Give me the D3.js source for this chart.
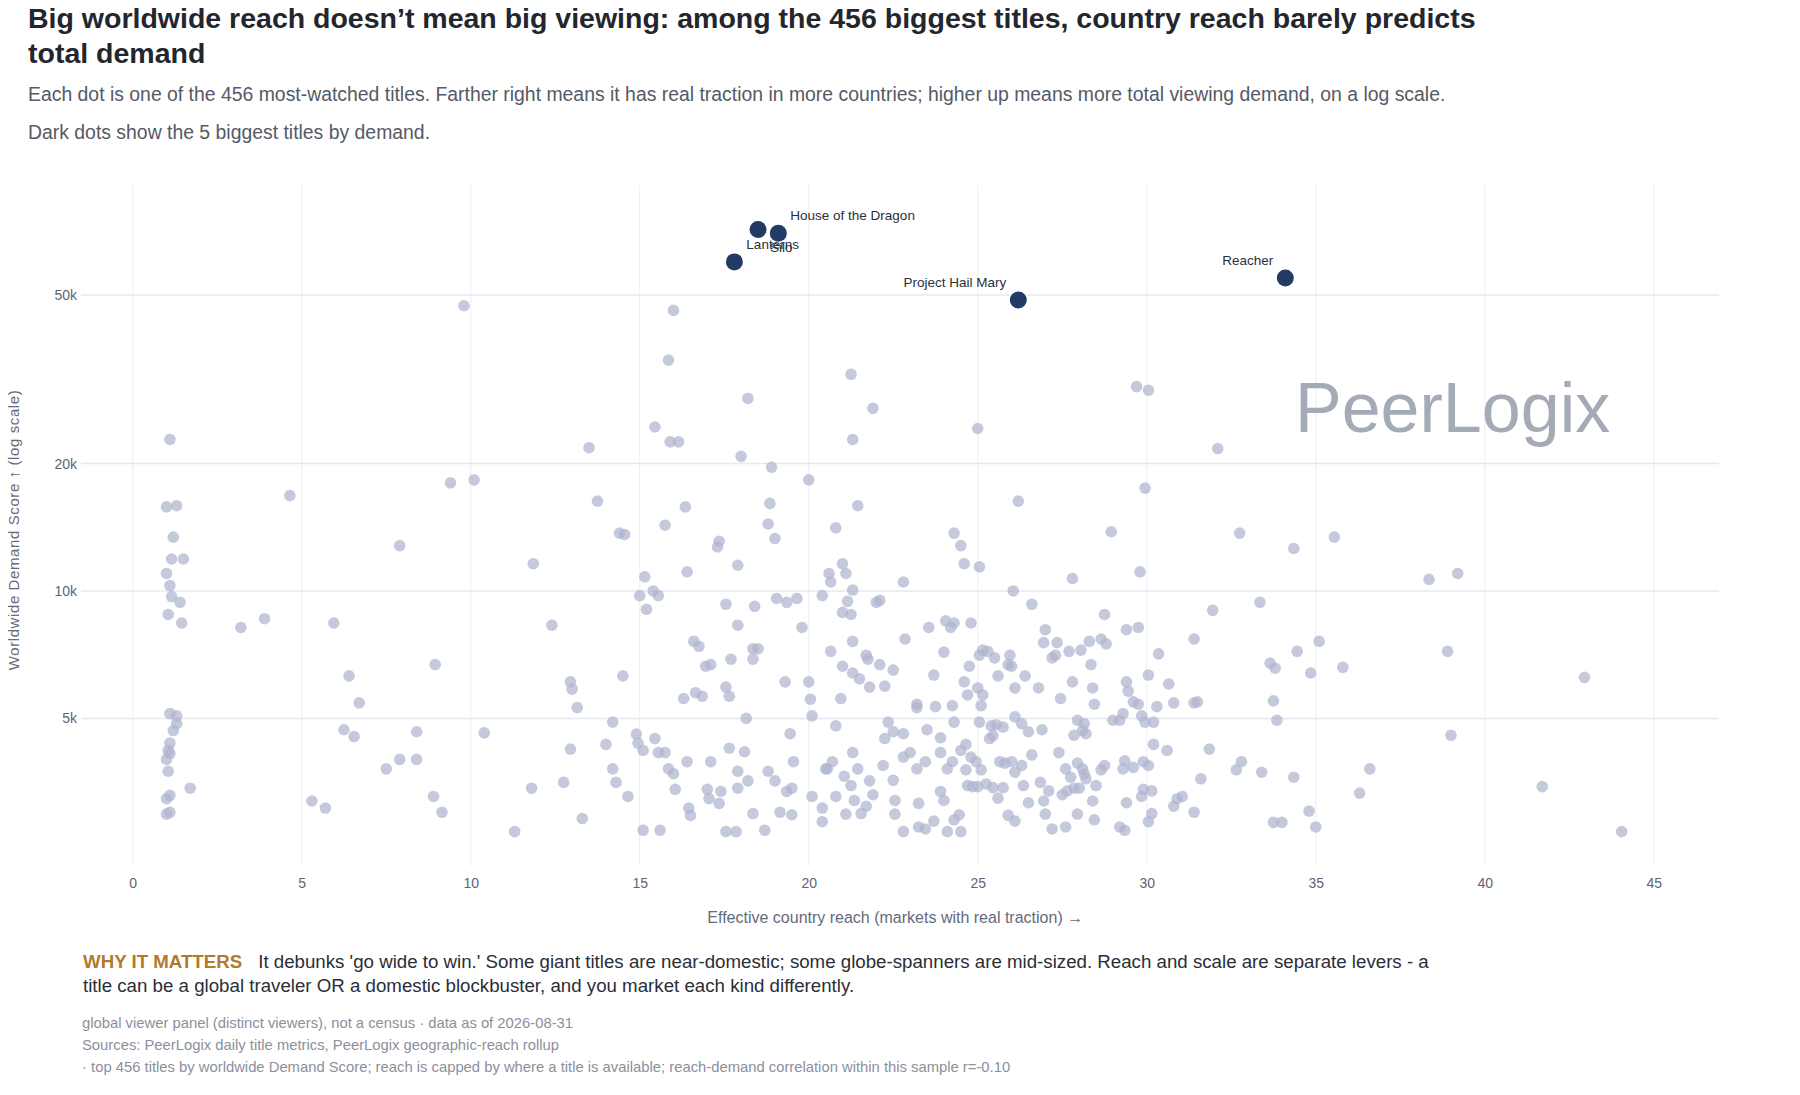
<!DOCTYPE html>
<html>
<head>
<meta charset="utf-8">
<script src="https://cdn.jsdelivr.net/npm/d3@7"></script>
<style>
  body { margin: 0; background: #fff; font-family: "Liberation Sans", Arial, sans-serif; }
</style>
</head>
<body>
<svg id="chart" width="1800" height="1095"></svg>
<script>
// x tick values and y tick values (log axis)
var xTicks = [0, 5, 10, 15, 20, 25, 30, 35, 40, 45];
var yTicks = [5000, 10000, 20000, 50000];
var yTickLabels = ["5k", "10k", "20k", "50k"];

// the 5 biggest titles by demand
var topTitles = ["Silo", "House of the Dragon", "Lanterns", "Project Hail Mary", "Reacher"];
var topReach = [18.5, 19.1, 17.8, 26.2, 34.1];
var topDemand = [71400, 70000, 59900, 48700, 54900];
var topLabelPos = ["bottom right", "top right", "top right", "top left", "top left"];

// all other titles: [reach, demand]
var otherTitles = [
  [1.1,22800],[1.0,15800],[1.3,15900],[1.2,13400],[1.15,11900],[1.5,11900],[1.0,11000],[1.1,10300],
  [1.15,9700],[1.4,9400],[1.05,8800],[1.45,8400],[1.1,5130],[1.3,5070],[1.3,4860],[1.2,4680],
  [1.1,4370],[1.05,4200],[1.1,4130],[1.0,4000],[1.05,3750],[1.7,3420],[1.1,3290],[1.0,3230],
  [1.1,3000],[1.0,2970],
  [4.65,16800],[3.2,8200],[3.9,8600],[5.95,8400],[6.4,6300],[6.7,5440],[6.25,4700],[6.55,4530],
  [5.3,3190],[5.7,3070],[7.5,3800],[7.9,4000],[8.4,4000],[8.4,4650],[7.9,12800],[8.95,6700],
  [8.9,3270],[9.15,3000],[9.8,47200],[9.4,18000],[10.1,18300],[10.4,4620],[11.3,2700],[11.8,3420],
  [11.85,11600],[12.4,8300],[12.75,3530],[12.95,6100],[13.0,5860],[12.95,4230],[13.15,5300],[13.3,2900],
  [13.5,21800],[13.75,16300],[14.0,4340],[14.2,4900],[14.2,3800],[14.3,3530],[14.4,13700],[14.55,13600],
  [14.5,6300],[14.65,3270],[14.9,4590],[14.95,4370],[15.0,9750],[15.15,10800],[15.2,9050],[15.4,10000],
  [15.45,24400],[15.85,35100],[16.0,46000],[15.9,22500],[16.15,22500],[15.75,14300],[15.55,9750],[16.4,11100],
  [16.35,15800],[15.1,4200],[15.45,4480],[15.55,4150],[15.75,4150],[15.1,2720],[15.6,2720],[15.85,3800],
  [16.0,3700],[16.05,3400],[16.4,3950],[16.3,5570],[16.65,5750],[16.85,5640],[16.6,7600],[16.75,7400],
  [16.95,6640],[17.1,6700],[17.55,5930],[17.65,5640],[17.35,13100],[17.3,12700],[17.55,9300],[17.9,11500],
  [18.0,20800],[18.2,28500],[17.9,8300],[18.15,5000],[18.4,9200],[18.35,7300],[18.35,6900],[18.5,7300],
  [18.1,4170],[17.1,3950],[16.45,3070],[16.5,2950],[17.05,3230],[17.35,3150],[17.4,3360],[17.0,3400],
  [17.55,2700],[17.85,2700],[17.9,3420],[17.9,3750],[18.2,3560],[18.35,2980],[18.7,2720],[18.8,3750],
  [18.9,19600],[18.85,16100],[18.8,14400],[19.0,13300],[19.05,9600],[19.35,9400],[19.65,9600],[19.8,8200],
  [19.3,6100],[19.45,4600],[19.55,3950],[19.0,3560],[19.35,3360],[19.15,3000],[19.5,2960],[19.5,3420],
  [20.0,18300],[20.0,6100],[20.05,5550],[20.1,5070],[20.1,3270],[20.4,9750],[20.6,11000],[20.65,10500],
  [20.8,14100],[20.5,3800],[20.7,3950],[20.4,3070],[20.4,2850],[20.55,3800],[20.8,3270],[20.95,5570],
  [21.0,11600],[21.1,11000],[21.15,9450],[21.3,10050],[21.25,8800],[21.3,7600],[21.25,32500],[21.3,22800],
  [21.45,15900],[21.9,27000],[21.0,8900],[21.5,6200],[21.75,6900],[21.8,5930],[22.1,6700],[22.25,5960],
  [22.1,9500],[22.0,9400],[22.5,6500],[22.8,10500],[22.85,7700],[22.25,4480],[22.5,4650],[22.8,4600],
  [22.35,4900],[21.45,3800],[21.3,4150],[21.05,3650],[21.25,3470],[21.35,3200],[21.1,2970],[21.55,2980],
  [21.8,3560],[21.9,3300],[21.7,3100],[22.2,3870],[22.5,3570],[22.55,3200],[22.55,2970],[22.8,2700],
  [22.8,4050],[23.0,4150],[23.2,5400],[23.2,5300],[23.5,4700],[23.2,3800],[23.25,3150],[23.25,2770],
  [23.45,2740],[23.45,3950],[23.55,8200],[23.7,6330],[23.75,5330],[23.9,4500],[23.9,4150],[24.0,7170],
  [24.05,8500],[24.2,8200],[24.25,5360],[24.3,4900],[24.25,3950],[24.1,3800],[23.9,3360],[24.0,3200],
  [23.7,2860],[24.1,2700],[24.3,2880],[24.45,2960],[24.5,2700],[24.3,13700],[24.5,12800],[24.6,11600],
  [25.0,24200],[25.05,11400],[24.8,8400],[25.05,7050],[25.15,7250],[25.3,7200],[24.6,6100],[24.75,6640],
  [24.7,5680],[25.0,5900],[25.15,5680],[25.5,6950],[25.95,7050],[26.0,6640],[25.6,6300],[25.1,5360],
  [25.05,4900],[25.4,4800],[25.55,4830],[25.75,4770],[26.1,5040],[26.3,4860],[26.4,6300],[26.8,5900],
  [26.5,4650],[26.9,4700],[24.5,4200],[24.65,4340],[24.8,4050],[24.65,3780],[24.95,3950],[25.1,3780],
  [25.35,4480],[25.45,4550],[25.65,3950],[25.8,3920],[26.0,3950],[26.1,3730],[26.3,3870],[26.6,4100],
  [25.25,3500],[24.7,3470],[24.85,3450],[25.0,3450],[25.45,3430],[25.75,3430],[25.6,3240],[25.9,2950],
  [26.1,2860],[26.35,3470],[26.5,3160],[26.85,3530],[27.1,3370],[26.95,3190],[27.0,2970],[27.2,2740],
  [27.4,4150],[27.6,3800],[27.75,3630],[27.65,3370],[27.85,3420],[27.5,3300],[27.95,2970],[27.6,2770],
  [27.95,3920],[28.1,3800],[28.15,3700],[28.2,3600],[28.0,3420],[28.4,3190],[28.5,3470],[28.65,3780],
  [28.75,3870],[28.45,2880],[29.2,2770],[29.35,2720],[29.4,3160],[29.85,3270],[29.9,3400],[30.15,3370],
  [30.15,2980],[30.05,2850],[29.35,3970],[29.3,3800],[29.6,3830],[29.9,3950],[30.05,3870],[30.2,4340],
  [30.2,4900],[30.6,4200],[29.85,5070],[29.95,4900],[29.75,5400],[29.6,5470],[29.3,5130],[29.0,4950],
  [29.2,4950],[29.4,6100],[29.45,5800],[30.05,6330],[30.3,5330],[30.8,5440],[30.65,6030],[30.35,7100],
  [31.4,5440],[31.5,5470],[31.4,7700],[31.95,9000],[31.85,4230],[31.6,3600],[31.4,3000],[30.9,3230],
  [30.8,3100],[31.05,3270],[32.65,3780],[32.8,3950],[33.4,3730],[33.35,9400],[33.65,6750],[33.8,6570],
  [33.75,5500],[33.85,4950],[34.45,7200],[35.1,7600],[34.85,6400],[35.8,6600],[34.35,3630],[34.8,3020],
  [33.75,2840],[34.0,2840],[35.0,2770],[36.6,3800],[36.3,3330],[38.35,10650],[39.2,11000],[38.9,7200],
  [39.0,4560],[41.7,3450],[42.95,6250],[44.05,2700],[32.1,21700],[32.75,13700],[34.35,12600],[35.55,13400],
  [29.7,30400],[30.05,29800],[29.95,17500],[29.8,11100],[28.95,13800],[27.8,10700],[26.2,16300],[26.05,10000],
  [26.6,9300],[28.75,8800],[29.75,8200],[29.4,8100],[28.65,7700],[28.8,7500],[28.3,7600],[27.7,7200],
  [28.05,7250],[28.35,6700],[27.3,7050],[27.2,6950],[26.95,7550],[27.0,8100],[27.35,7550],[27.8,6100],
  [28.4,5900],[27.45,5570],[27.95,4950],[28.15,4860],[28.1,4680],[27.85,4560],[28.2,4600],[28.45,5400],
  [26.1,5900],[25.9,6700],[24.3,8400],[20.65,7200],[21.0,6640],[21.3,6400],[21.7,7050],[20.8,4800],
  [17.7,6900],[17.65,4250]
];

var svg = d3.select("#chart");
var plotLeft = 81, plotRight = 1719, plotTop = 185, plotBottom = 866;

var x = d3.scaleLinear().domain([-1.53, 46.93]).range([plotLeft, plotRight]);
var y = d3.scaleLog().domain([2240, 91000]).range([plotBottom, plotTop]);

// title & subtitle
var title = svg.append("text").attr("font-size", 28.5).attr("font-weight", "bold").attr("fill", "#23262e");
title.append("tspan").attr("x", 28).attr("y", 28)
  .text("Big worldwide reach doesn\u2019t mean big viewing: among the 456 biggest titles, country reach barely predicts");
title.append("tspan").attr("x", 28).attr("y", 63).text("total demand");

svg.append("text").attr("x", 28).attr("y", 101).attr("font-size", 19.4).attr("fill", "#555a66")
  .text("Each dot is one of the 456 most-watched titles. Farther right means it has real traction in more countries; higher up means more total viewing demand, on a log scale.");
svg.append("text").attr("x", 28).attr("y", 139).attr("font-size", 19.4).attr("fill", "#555a66")
  .text("Dark dots show the 5 biggest titles by demand.");

// grid
svg.append("g").selectAll("line").data(xTicks).join("line")
  .attr("x1", d => x(d)).attr("x2", d => x(d)).attr("y1", plotTop).attr("y2", plotBottom)
  .attr("stroke", "#eceef5").attr("stroke-width", 1);
svg.append("g").selectAll("line").data(yTicks).join("line")
  .attr("x1", plotLeft).attr("x2", plotRight).attr("y1", d => y(d)).attr("y2", d => y(d))
  .attr("stroke", "#e6e8f1").attr("stroke-width", 1.5);

// axes via d3
var xAxis = svg.append("g").attr("transform", "translate(0," + (plotBottom + 8) + ")")
  .call(d3.axisBottom(x).tickValues(xTicks).tickSize(0).tickPadding(4));
var yAxis = svg.append("g").attr("transform", "translate(" + (plotLeft - 4) + ",0)")
  .call(d3.axisLeft(y).tickValues(yTicks).tickFormat((d, i) => yTickLabels[i]).tickSize(0).tickPadding(0));
[xAxis, yAxis].forEach(a => {
  a.select(".domain").remove();
  a.selectAll("text").attr("font-size", 14).attr("fill", "#5f6573").attr("font-family", "Liberation Sans, Arial, sans-serif");
});

svg.append("text").attr("x", (x(0) + x(45)) / 2 + 2).attr("y", 923).attr("text-anchor", "middle")
  .attr("font-size", 16).attr("fill", "#656b78")
  .text("Effective country reach (markets with real traction) \u2192");
svg.append("text").attr("transform", "translate(19,530) rotate(-90)").attr("text-anchor", "middle")
  .attr("font-size", 15).attr("fill", "#656b78").attr("letter-spacing", 0.6)
  .text("Worldwide Demand Score \u2191 (log scale)");

// watermark
svg.append("text").attr("x", 1295).attr("y", 432).attr("font-size", 70).attr("fill", "#a4aab6")
  .text("PeerLogix");

// grey dots
svg.append("g").selectAll("circle").data(otherTitles).join("circle")
  .attr("cx", d => x(d[0])).attr("cy", d => y(d[1])).attr("r", 5.8)
  .attr("fill", "#aeb4cf").attr("fill-opacity", 0.72);

// top 5
var tops = topTitles.map((t, i) => ({ name: t, reach: topReach[i], demand: topDemand[i], pos: topLabelPos[i] }));
svg.append("g").selectAll("circle").data(tops).join("circle")
  .attr("cx", d => x(d.reach)).attr("cy", d => y(d.demand)).attr("r", 8.5)
  .attr("fill", "#213a66");
svg.append("g").selectAll("text").data(tops).join("text")
  .attr("x", d => x(d.reach) + (d.pos.indexOf("left") >= 0 ? -12 : 12))
  .attr("y", d => y(d.demand) + (d.pos.indexOf("top") >= 0 ? -13 : 22))
  .attr("text-anchor", d => d.pos.indexOf("left") >= 0 ? "end" : "start")
  .attr("font-size", 13.5).attr("fill", "#2b2f38")
  .text(d => d.name);

// why it matters
var why = svg.append("text").attr("x", 83).attr("y", 968).attr("font-size", 18.7).attr("fill", "#2a2e37");
why.append("tspan").attr("font-weight", "bold").attr("fill", "#b27a2c").text("WHY IT MATTERS");
why.append("tspan").attr("dx", 16).text("It debunks 'go wide to win.' Some giant titles are near-domestic; some globe-spanners are mid-sized. Reach and scale are separate levers - a");
svg.append("text").attr("x", 83).attr("y", 992).attr("font-size", 18.7).attr("fill", "#2a2e37")
  .text("title can be a global traveler OR a domestic blockbuster, and you market each kind differently.");

var notes = [
  "global viewer panel (distinct viewers), not a census \u00b7 data as of 2026-08-31",
  "Sources: PeerLogix daily title metrics, PeerLogix geographic-reach rollup",
  "\u00b7 top 456 titles by worldwide Demand Score; reach is capped by where a title is available; reach-demand correlation within this sample r=-0.10"
];
svg.append("g").selectAll("text").data(notes).join("text")
  .attr("x", 82).attr("y", (d, i) => 1028 + i * 22).attr("font-size", 14.8).attr("fill", "#8b909c")
  .text(d => d);
</script>
</body>
</html>
